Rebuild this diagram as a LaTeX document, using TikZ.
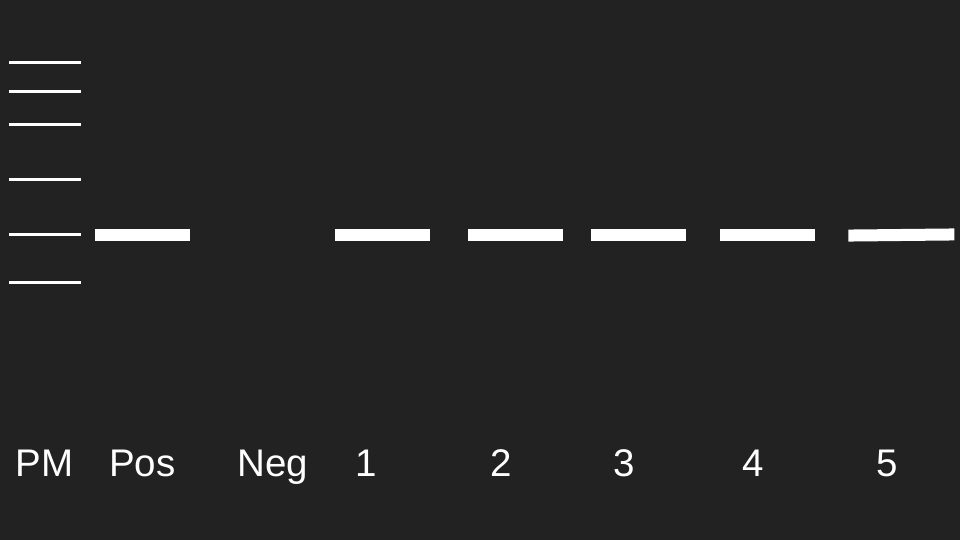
\documentclass[tikz,border=0pt]{standalone}
\usepackage{fontspec}
\setmainfont{Liberation Sans}
\usepackage{tikz}
\usetikzlibrary{positioning}
\definecolor{gel}{HTML}{222222}

\begin{document}
\begin{tikzpicture}[x=1pt, y=-1pt,
    band/.style = {fill=white, inner sep=0pt, minimum width=95pt, minimum height=12pt},
    ladder/.style = {draw=white, line width=3pt},
    lane/.style = {text=white, anchor=base, inner sep=0pt, font=\fontsize{38.5}{46}\selectfont}]
            \fill[gel] (0,0) rectangle (960,540);
            \useasboundingbox (0,0) rectangle (960,540);

            % marker ladder
            \foreach \y in {62.3, 91.3, 124.3, 179.3, 234.3, 282.3}
                \draw[ladder] (9.3,\y) -- (80.7,\y);

            % bands
            \node[band] (Pos) at (142.5,235.3) {};
            \node[band] (S1) at (382.4,235.3) {};
            \node[band] (S2) at (515.9,235.3) {};
            \node[band] (S3) at (638.4,235.3) {};
            \node[band] (S4) at (767.9,235.3) {};
            \node[band, minimum width=106pt, rotate=0.6] (S5) at (901.3,235) {};

            % lane labels
            \node[lane] (PM) at (44.3,476) {PM};
            \node[lane] (lPos) at (142.2,476) {Pos};
            \node[lane] (lNeg) at (272.8,476) {Neg};
            \node[lane] (l1) at (366.2,476) {1};
            \node[lane] (l2) at (501.3,476) {2};
            \node[lane] (l3) at (623.8,476) {3};
            \node[lane] (l4) at (753,476) {4};
            \node[lane] (l5) at (886.7,476) {5};
        \end{tikzpicture}
\end{document}
